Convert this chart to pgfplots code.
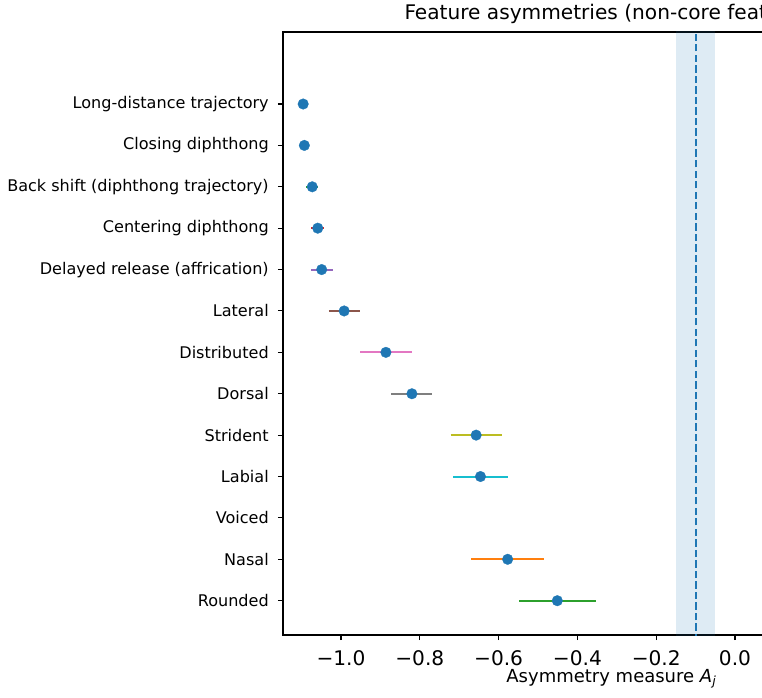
\documentclass[border=0pt]{standalone}
\usepackage{fontspec}
\setmainfont{DejaVu Sans}
\usepackage{pgfplots}
\pgfplotsset{compat=1.18}
\definecolor{C0}{HTML}{1F77B4}
\definecolor{C1}{HTML}{FF7F0E}
\definecolor{C2}{HTML}{2CA02C}
\definecolor{C3}{HTML}{D62728}
\definecolor{C4}{HTML}{9467BD}
\definecolor{C5}{HTML}{8C564B}
\definecolor{C6}{HTML}{E377C2}
\definecolor{C7}{HTML}{7F7F7F}
\definecolor{C8}{HTML}{BCBD22}
\definecolor{C9}{HTML}{17BECF}
\begin{document}
\begin{tikzpicture}
\useasboundingbox (-212.25pt,-46.5pt) rectangle (359.25pt,476.25pt);
\clip (-212.25pt,-46.5pt) rectangle (359.25pt,476.25pt);
\begin{axis}[
  at={(0,0)}, anchor=south west,
  scale only axis, width=492.66pt, height=452.25pt,
  xmin=-1.1472, xmax=0.52, ymin=-0.829, ymax=13.74,
  axis line style={line width=0.8pt, black},
  tick align=outside, xtick pos=bottom, ytick pos=left,
  major tick length=3.75pt,
  tick style={black, line width=0.8pt},
  xtick={-1,-0.8,-0.6,-0.4,-0.2,0,0.2,0.4},
  xticklabels={−1.0,−0.8,−0.6,−0.4,−0.2,0.0,0.2,0.4},
  ytick={0,1,2,3,4,5,6,7,8,9,10,11,12},
  yticklabels={Rounded,Nasal,Voiced,Labial,Strident,Dorsal,Distributed,Lateral,Delayed release (affrication),Centering diphthong,Back shift (diphthong trajectory),Closing diphthong,Long-distance trajectory},
  every x tick label/.style={font=\fontsize{15.1}{17}\selectfont, anchor=base, inner sep=0pt, yshift=-19.25pt},
  every y tick label/.style={font=\fontsize{12.05}{14}\selectfont, anchor=east, inner sep=0pt, xshift=-6.75pt},
  xlabel={Asymmetry measure \textit{A}\textsubscript{\textit{j}}},
  every axis x label/.style={at={(axis description cs:0.5,0)}, anchor=base, yshift=-35.8pt, font=\fontsize{13.5}{15}\selectfont},
  title={Feature asymmetries (non-core features)},
  every axis title/.style={at={(axis description cs:0.5,1)}, anchor=base, yshift=9.5pt, font=\fontsize{15.1}{17}\selectfont},
]
% reference band and line
\addplot[draw=none, fill=C0, fill opacity=0.15, forget plot] coordinates {(-0.15,-2) (-0.15,15) (-0.05,15) (-0.05,-2)} -- cycle;
\addplot[C0, line width=1.4pt, dash pattern=on 5.5pt off 2.4pt, forget plot] coordinates {(-0.1,-2) (-0.1,15)};
% error bars (lo, hi)
\addplot[C2, line width=1.5pt] coordinates {(-0.548,0) (-0.353,0)};
\addplot[C1, line width=1.5pt] coordinates {(-0.669,1) (-0.485,1)};
\addplot[C9, line width=1.5pt] coordinates {(-0.715,3) (-0.575,3)};
\addplot[C8, line width=1.5pt] coordinates {(-0.722,4) (-0.592,4)};
\addplot[C7, line width=1.5pt] coordinates {(-0.872,5) (-0.768,5)};
\addplot[C6, line width=1.5pt] coordinates {(-0.951,6) (-0.819,6)};
\addplot[C5, line width=1.5pt] coordinates {(-1.031,7) (-0.951,7)};
\addplot[C4, line width=1.5pt] coordinates {(-1.075,8) (-1.021,8)};
\addplot[C3, line width=1.5pt] coordinates {(-1.075,9) (-1.042,9)};
\addplot[C2, line width=1.5pt] coordinates {(-1.088,10) (-1.058,10)};
\addplot[C1, line width=1.5pt] coordinates {(-1.100,11) (-1.087,11)};
\addplot[C0, line width=1.5pt] coordinates {(-1.102,12) (-1.090,12)};
% point estimates
\addplot[only marks, color=C0, mark=*, mark size=4pt, mark options={solid, fill=C0, draw=C0, line width=0.2pt}] coordinates {
(-0.451,0) (-0.577,1) (-0.646,3) (-0.657,4) (-0.820,5) (-0.886,6) (-0.992,7) (-1.049,8) (-1.059,9) (-1.073,10) (-1.093,11) (-1.096,12)
};
\end{axis}
\end{tikzpicture}
\end{document}
